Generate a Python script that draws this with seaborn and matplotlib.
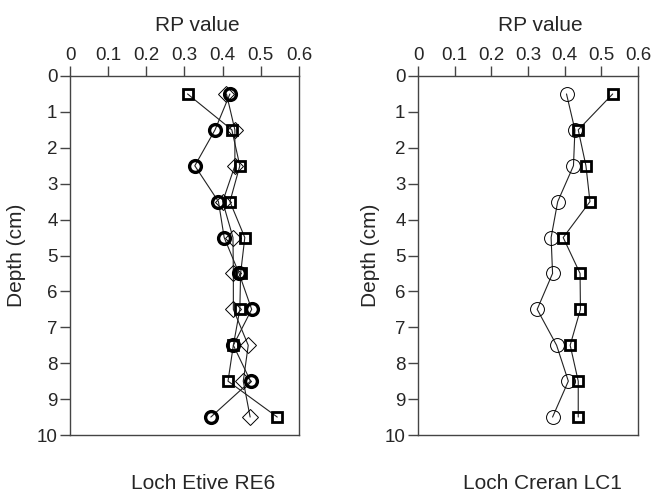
import matplotlib
matplotlib.use("Agg")
import matplotlib.pyplot as plt
import seaborn as sns
import pandas as pd

# ---- data ----
depth = [0.5, 1.5, 2.5, 3.5, 4.5, 5.5, 6.5, 7.5, 8.5, 9.5]

# Loch Etive RE6
etive_square = [0.308, 0.424, 0.445, 0.419, 0.458, 0.447, 0.445, 0.428, 0.414, 0.543]
etive_circle = [0.419, 0.380, 0.327, 0.389, 0.404, 0.443, 0.476, 0.428, 0.473, 0.369]
etive_diamond = [0.410, 0.432, 0.432, 0.400, 0.427, 0.428, 0.428, 0.467, 0.454, 0.472]

# Loch Creran LC1
creran_circle = [0.405, 0.428, 0.424, 0.381, 0.363, 0.367, 0.325, 0.378, 0.410, 0.367]
creran_square = [0.531, 0.437, 0.458, 0.469, 0.396, 0.442, 0.443, 0.415, 0.437, 0.437]

xticks = [0, 0.1, 0.2, 0.3, 0.4, 0.5, 0.6]
xticklabels = ["0", "0.1", "0.2", "0.3", "0.4", "0.5", "0.6"]
yticks = list(range(0, 11))
titles = ["Loch Etive RE6", "Loch Creran LC1"]

sns.set_theme(style="white")
plt.rcParams['font.family'] = ['Liberation Sans', 'DejaVu Sans']

fig = plt.figure(figsize=(6.53, 4.95), dpi=100)
ax1 = fig.add_axes([70/653, 1-435/495, 229/653, 359/495])
ax2 = fig.add_axes([418/653, 1-435/495, 220/653, 359/495])

line_kw = dict(color="#222222", linewidth=0.8, sort=False, estimator=None)

def draw(ax, vals, marker, ms, mew):
    df = pd.DataFrame({"rp": vals, "depth": depth})
    sns.lineplot(data=df, x="rp", y="depth", ax=ax, marker=marker,
                 markersize=ms, markerfacecolor="none", markeredgecolor="black",
                 markeredgewidth=mew, **line_kw)

draw(ax1, etive_diamond, "D", 8.5, 0.7)
draw(ax1, etive_square, "s", 7.5, 2.0)
draw(ax1, etive_circle, "o", 8.5, 2.4)

draw(ax2, creran_circle, "o", 10, 0.7)
draw(ax2, creran_square, "s", 7.5, 2.0)

ylabel_x = [-0.21, -0.1927]
for ax, lx in zip([ax1, ax2], ylabel_x):
    ax.set_xlim(0, 0.6)
    ax.set_ylim(10, 0)
    ax.xaxis.tick_top()
    ax.xaxis.set_label_position("top")
    ax.set_xticks(xticks)
    ax.set_xticklabels(xticklabels)
    ax.set_yticks(yticks)
    ax.set_xlabel("RP value", fontsize=15, va="baseline", ha="center")
    ax.xaxis.set_label_coords(0.556, 1.1253)
    ax.set_ylabel("Depth (cm)", fontsize=15, va="baseline", ha="center")
    ax.yaxis.set_label_coords(lx, 0.5)
    ax.tick_params(axis="both", which="both", labelsize=13.5, direction="out",
                   length=7.5, width=1, color="#444444",
                   top=True, bottom=False, left=True, right=False)
    ax.tick_params(axis="x", pad=1)
    ax.tick_params(axis="y", pad=1.5)
    for s in ax.spines.values():
        s.set_color("#444444")
        s.set_linewidth(1)
    ax.grid(False)

fig.text(203/653, 1-489/495, titles[0], ha="center", va="baseline", fontsize=15)
fig.text(542/653, 1-489/495, titles[1], ha="center", va="baseline", fontsize=15)

fig.savefig("out.png", dpi=100, facecolor="white")
